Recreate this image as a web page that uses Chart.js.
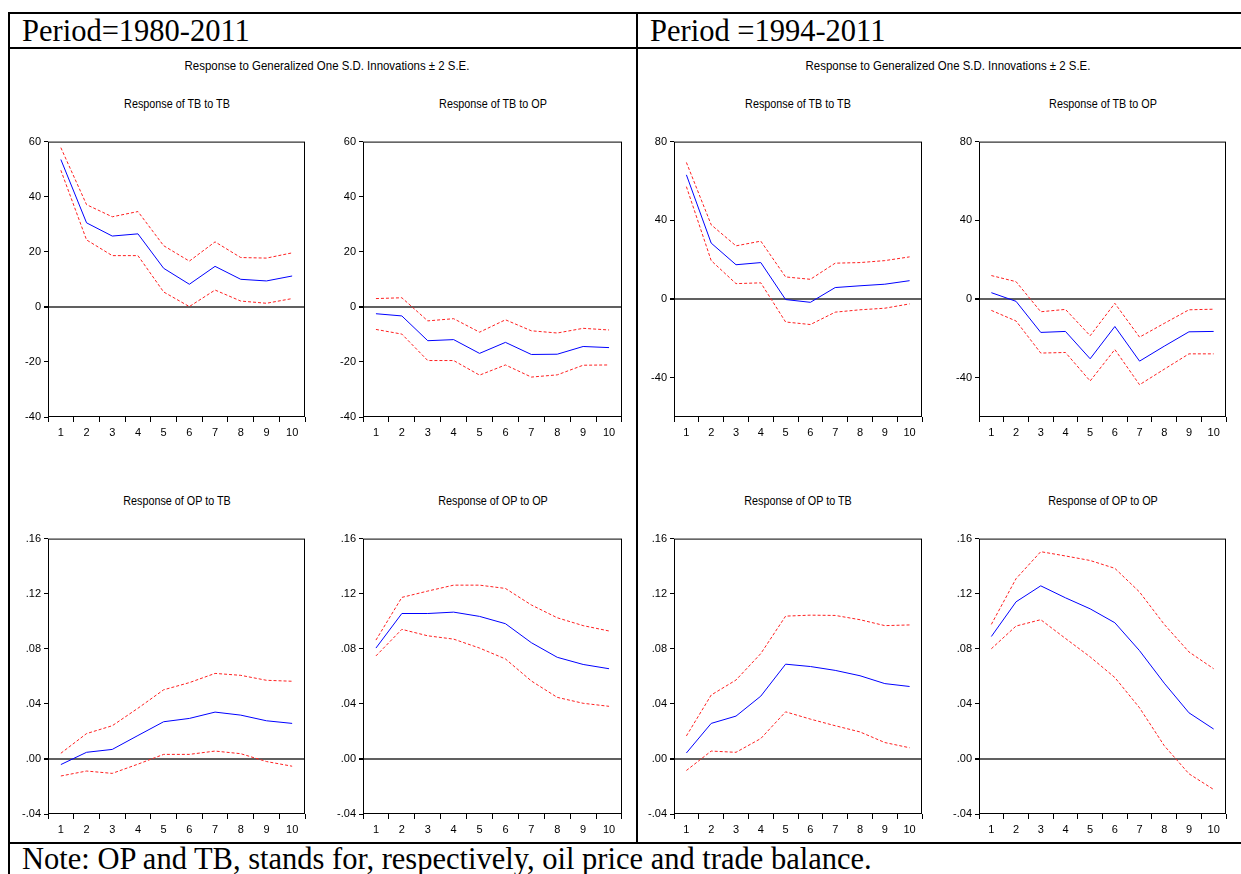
<!DOCTYPE html>
<html><head><meta charset="utf-8">
<script src="https://cdn.jsdelivr.net/npm/chart.js@4.4.0/dist/chart.umd.min.js"></script>
<style>
body{margin:0;background:#fff;}
#page{position:relative;width:1241px;height:874px;overflow:hidden;background:#fff;}
.ln{position:absolute;background:#000;}
.big{position:absolute;font-family:'Liberation Serif','Times New Roman',serif;font-size:30.5px;color:#000;white-space:nowrap;line-height:1;}
.sm{position:absolute;font-family:'Liberation Sans Narrow','Arial Narrow','Liberation Sans',Arial,sans-serif;font-size:13px;color:#000;white-space:nowrap;line-height:1;transform:translate(-50%,-50%) scaleX(0.83);}
.hd{transform:translate(-50%,-50%) scaleX(0.88);}
canvas{position:absolute;}
</style></head>
<body><div id="page"></div>
<script>
// ---- data ----
const horizons = ['1','2','3','4','5','6','7','8','9','10'];

// Period 1980-2011
const tbTb80Resp  = [53.5, 30.5, 25.7, 26.5, 14.0, 8.2, 14.7, 10.0, 9.4, 11.2];
const tbTb80Upper = [57.8, 37.1, 32.7, 34.6, 22.2, 16.6, 23.6, 17.9, 17.7, 19.6];
const tbTb80Lower = [49.6, 24.3, 18.6, 18.6, 5.4, 0.1, 6.1, 2.1, 1.3, 3.0];

const tbOp80Resp  = [-2.5, -3.3, -12.3, -11.9, -16.9, -12.9, -17.3, -17.2, -14.4, -14.8];
const tbOp80Upper = [3.0, 3.3, -5.1, -4.3, -9.2, -4.7, -8.7, -9.5, -7.8, -8.4];
const tbOp80Lower = [-8.2, -9.9, -19.5, -19.5, -24.8, -21.1, -25.5, -24.7, -21.2, -21.1];

const opTb80Resp  = [-0.0041, 0.0048, 0.0069, 0.0170, 0.0270, 0.0294, 0.0340, 0.0318, 0.0277, 0.0258];
const opTb80Upper = [0.0041, 0.0184, 0.0241, 0.0368, 0.0502, 0.0554, 0.0621, 0.0607, 0.0571, 0.0564];
const opTb80Lower = [-0.0124, -0.0088, -0.0105, -0.0038, 0.0033, 0.0033, 0.0057, 0.0038, -0.0019, -0.0053];

const opOp80Resp  = [0.0805, 0.1056, 0.1056, 0.1066, 0.1035, 0.0982, 0.0844, 0.0738, 0.0686, 0.0655];
const opOp80Upper = [0.0863, 0.1173, 0.1219, 0.1262, 0.1262, 0.1238, 0.1118, 0.1025, 0.0968, 0.0929];
const opOp80Lower = [0.0748, 0.0941, 0.0894, 0.0870, 0.0805, 0.0726, 0.0566, 0.0447, 0.0404, 0.0382];

// Period 1994-2011
const tbTb94Resp  = [63.1, 28.4, 17.4, 18.5, -0.3, -1.7, 5.8, 6.7, 7.5, 9.3];
const tbTb94Upper = [69.4, 37.7, 27.0, 29.4, 11.2, 10.0, 18.2, 18.5, 19.5, 21.4];
const tbTb94Lower = [57.1, 19.5, 7.8, 8.2, -11.7, -13.0, -6.7, -5.5, -4.7, -2.5];

const tbOp94Resp  = [3.2, -1.2, -17.0, -16.5, -30.4, -14.0, -31.6, -24.0, -16.7, -16.5];
const tbOp94Upper = [11.9, 8.8, -6.5, -5.3, -18.7, -2.2, -19.4, -12.4, -5.5, -5.2];
const tbOp94Lower = [-5.8, -11.2, -27.5, -27.2, -41.7, -25.7, -43.6, -35.7, -27.9, -27.9];

const opTb94Resp  = [0.0043, 0.0258, 0.0311, 0.0456, 0.0688, 0.0671, 0.0643, 0.0604, 0.0547, 0.0526];
const opTb94Upper = [0.0167, 0.0464, 0.0573, 0.0765, 0.1037, 0.1044, 0.1042, 0.1011, 0.0968, 0.0973];
const opTb94Lower = [-0.0084, 0.0057, 0.0048, 0.0148, 0.0342, 0.0289, 0.0241, 0.0196, 0.0119, 0.0081];

const opOp94Resp  = [0.0889, 0.1141, 0.1257, 0.1170, 0.1090, 0.0989, 0.0786, 0.0550, 0.0335, 0.0217];
const opOp94Upper = [0.0977, 0.1309, 0.1505, 0.1474, 0.1441, 0.1384, 0.1212, 0.0977, 0.0777, 0.0655];
const opOp94Lower = [0.0800, 0.0965, 0.1011, 0.0875, 0.0741, 0.0591, 0.0371, 0.0096, -0.0108, -0.0222];

// tick labels
const tbTicks80 = [-40, -20, 0, 20, 40, 60];
const tbTicks94 = [-40, 0, 40, 80];
const opTicks   = [-0.04, 0, 0.04, 0.08, 0.12, 0.16];

const periodLabels = ['Period=1980-2011', 'Period =1994-2011'];
const headerText = 'Response to Generalized One S.D. Innovations \u00b1 2 S.E.';
const noteText = 'Note: OP and TB, stands for, respectively, oil price and trade balance.';

// ---- layout ----
const page = document.getElementById('page');
const FONT = "'Liberation Sans Narrow','Arial Narrow','Liberation Sans',Arial,sans-serif";

function line(x,y,w,h){const d=document.createElement('div');d.className='ln';
  Object.assign(d.style,{left:x+'px',top:y+'px',width:w+'px',height:h+'px'});page.appendChild(d);}
function text(cls,t,x,y){const d=document.createElement('div');d.className=cls;d.textContent=t;
  d.style.left=x+'px';d.style.top=y+'px';page.appendChild(d);}

line(8,12,1233,2); line(8,47,1233,2); line(8,842,1233,2);
line(8,12,2,862); line(636,12,2,831);
text('big',periodLabels[0],22,16);
text('big',periodLabels[1],650,16);
text('big',noteText,22,843.5);
text('sm hd',headerText,327,65);
text('sm hd',headerText,948,65);

const fmtTB = v => String(v);
const fmtOP = v => { const s=(+v).toFixed(2); return s.replace('0.', '.'); };

const boxPlugin = {id:'box', afterDraw(chart){const {ctx,chartArea:a}=chart;ctx.save();ctx.strokeStyle='#000';ctx.lineWidth=1;
  ctx.strokeRect(a.left+0.5,a.top+0.5,a.right-a.left-1,a.bottom-a.top-1);ctx.restore();}};

const panels = [
  {title:'Response of TB to TB', L:48,  R:305,  T:139, B:418, resp:tbTb80Resp, up:tbTb80Upper, lo:tbTb80Lower, min:-40, max:60, ticks:tbTicks80, fmt:fmtTB},
  {title:'Response of TB to OP', L:363, R:622,  T:139, B:418, resp:tbOp80Resp, up:tbOp80Upper, lo:tbOp80Lower, min:-40, max:60, ticks:tbTicks80, fmt:fmtTB},
  {title:'Response of TB to TB', L:674, R:922,  T:139, B:418, resp:tbTb94Resp, up:tbTb94Upper, lo:tbTb94Lower, min:-60, max:80, ticks:tbTicks94, fmt:fmtTB},
  {title:'Response of TB to OP', L:979, R:1226, T:139, B:418, resp:tbOp94Resp, up:tbOp94Upper, lo:tbOp94Lower, min:-60, max:80, ticks:tbTicks94, fmt:fmtTB},
  {title:'Response of OP to TB', L:48,  R:305,  T:536, B:815, resp:opTb80Resp, up:opTb80Upper, lo:opTb80Lower, min:-0.04, max:0.16, ticks:opTicks, fmt:fmtOP},
  {title:'Response of OP to OP', L:363, R:622,  T:536, B:815, resp:opOp80Resp, up:opOp80Upper, lo:opOp80Lower, min:-0.04, max:0.16, ticks:opTicks, fmt:fmtOP},
  {title:'Response of OP to TB', L:674, R:922,  T:536, B:815, resp:opTb94Resp, up:opTb94Upper, lo:opTb94Lower, min:-0.04, max:0.16, ticks:opTicks, fmt:fmtOP},
  {title:'Response of OP to OP', L:979, R:1226, T:536, B:815, resp:opOp94Resp, up:opOp94Upper, lo:opOp94Lower, min:-0.04, max:0.16, ticks:opTicks, fmt:fmtOP},
];

function makeChart(p){
  const padL=40,padT=6,padR=6,axH=28;
  const w=(p.R-p.L)+padL+padR, h=(p.B-p.T)+padT+axH;
  const c=document.createElement('canvas');
  c.width=w;c.height=h;c.style.left=(p.L-padL)+'px';c.style.top=(p.T-padT-1)+'px';
  c.style.width=w+'px';c.style.height=h+'px';
  page.appendChild(c);
  text('sm',p.title,(p.L+p.R)/2,p.T<300?103:500);
  const red = d => ({data:d,borderColor:'#ff2020',borderWidth:1,borderDash:[3,2],pointRadius:0,tension:0,fill:false});
  new Chart(c,{type:'line',
    data:{labels:horizons,datasets:[red(p.up),red(p.lo),
      {data:p.resp,borderColor:'#0000ff',borderWidth:1,pointRadius:0,tension:0,fill:false}]},
    options:{responsive:false,animation:false,events:[],
      layout:{padding:{left:0,top:padT,right:padR,bottom:0}},
      plugins:{legend:{display:false},tooltip:{enabled:false},title:{display:false}},
      scales:{
        x:{offset:true,
           grid:{offset:true,drawOnChartArea:false,tickLength:5,color:'#000',lineWidth:1},
           border:{display:false},
           ticks:{font:{family:FONT,size:11},color:'#000',padding:4,maxRotation:0,autoSkip:false},
           afterFit:s=>{s.height=axH;}},
        y:{min:p.min,max:p.max,
           afterBuildTicks:a=>{a.ticks=p.ticks.map(v=>({value:v}));},
           grid:{color:ctx=>(ctx.tick&&Math.abs(ctx.tick.value)<1e-12)?'#606060':'rgba(0,0,0,0)',
                 lineWidth:ctx=>(ctx.tick&&Math.abs(ctx.tick.value)<1e-12)?2:1,
                 tickColor:'#000',tickLength:4,drawTicks:true},
           border:{display:false},
           ticks:{callback:p.fmt,font:{family:FONT,size:11},color:'#000',padding:3},
           afterFit:s=>{s.width=padL;}}
      }},
    plugins:[boxPlugin]});
}
panels.forEach(makeChart);
</script>
</body></html>
